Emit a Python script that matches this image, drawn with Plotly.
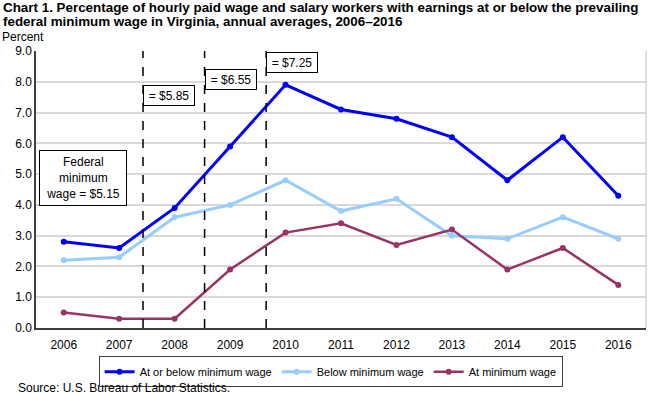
import plotly.graph_objects as go

years = [2006, 2007, 2008, 2009, 2010, 2011, 2012, 2013, 2014, 2015, 2016]
at_or_below = [2.8, 2.6, 3.9, 5.9, 7.9, 7.1, 6.8, 6.2, 4.8, 6.2, 4.3]
below = [2.2, 2.3, 3.6, 4.0, 4.8, 3.8, 4.2, 3.0, 2.9, 3.6, 2.9]
at_min = [0.5, 0.3, 0.3, 1.9, 3.1, 3.4, 2.7, 3.2, 1.9, 2.6, 1.4]
y_ticks = [0, 1, 2, 3, 4, 5, 6, 7, 8, 9]
wage_change_x = [2007.43, 2008.54, 2009.65]
wage_labels = ["= $5.85", "= $6.55", "= $7.25"]
wage_label_y = [7.56, 8.08, 8.62]
federal_label = "Federal<br>minimum<br>wage = $5.15"

FONT = "Liberation Sans, Arial, sans-serif"

fig = go.Figure()
series = [
    ("At or below minimum wage", at_or_below, "#0000FF", 3),
    ("Below minimum wage", below, "#99CCFF", 3),
    ("At minimum wage", at_min, "#993366", 2.5),
]
for name, vals, col, w in series:
    fig.add_trace(go.Scatter(
        x=years, y=vals, name=name, mode="lines+markers",
        line=dict(color=col, width=w), marker=dict(color=col, size=6),
    ))

for xv in wage_change_x:
    fig.add_shape(type="line", x0=xv, x1=xv, y0=0, y1=9.12, xref="x", yref="y",
                  line=dict(color="black", width=1.5, dash="dash"))

for xv, lab, yv in zip(wage_change_x, wage_labels, wage_label_y):
    fig.add_annotation(x=xv, y=yv, xref="x", yref="y", text=lab, showarrow=False,
                       xanchor="left", yanchor="middle", width=46, height=15, align="center",
                       font=dict(size=12, color="black", family=FONT),
                       bordercolor="black", borderwidth=1, borderpad=2, bgcolor="white")

fig.add_annotation(x=2006.344, y=4.89, xref="x", yref="y",
                   text=federal_label, showarrow=False, width=80, height=48,
                   xanchor="center", yanchor="middle", align="center",
                   font=dict(size=12, color="black", family=FONT),
                   bordercolor="black", borderwidth=1, borderpad=3, bgcolor="white")

title_lines = [
    "Chart 1. Percentage of hourly paid wage and salary workers with earnings at or below the prevailing",
    "federal minimum wage in Virginia, annual averages, 2006–2016",
]
for line, ys in zip(title_lines, [44, 30]):
    fig.add_annotation(x=0, y=1, xref="paper", yref="paper", xanchor="left", yanchor="middle",
                       text=f"<b>{line}</b>", showarrow=False, xshift=-35, yshift=ys,
                       font=dict(size=13.4, color="black", family=FONT))

fig.add_annotation(x=0, y=1, xref="paper", yref="paper", xanchor="left", yanchor="middle",
                   text="Percent", showarrow=False, font=dict(size=12, color="black", family=FONT),
                   xshift=-36, yshift=14)

fig.add_annotation(x=0, y=0, xref="paper", yref="paper", xanchor="left", yanchor="middle",
                   text="Source: U.S. Bureau of Labor Statistics.", showarrow=False,
                   font=dict(size=12, color="black", family=FONT), xshift=-20, yshift=-60)

fig.update_layout(
    width=650, height=393,
    margin=dict(l=36, r=4, t=51, b=65),
    paper_bgcolor="white", plot_bgcolor="white",
    font=dict(family=FONT, size=12, color="black"),
    showlegend=True,
    legend=dict(orientation="h", x=0.483, xanchor="center", y=-0.102, yanchor="top",
                bordercolor="#404040", borderwidth=1, font=dict(size=11, family=FONT),
                itemwidth=30, tracegroupgap=0),
    xaxis=dict(range=[2005.5, 2016.5], tickvals=years, ticktext=[str(y) for y in years],
               showgrid=False, showline=True, linecolor="#404040", linewidth=1.5,
               ticks="", mirror=False, zeroline=False, ticklabelstandoff=5),
    yaxis=dict(range=[0, 9], tickvals=y_ticks, ticktext=[f"{v:.1f}" for v in y_ticks],
               showgrid=True, gridcolor="#D9D9D9", gridwidth=1.5,
               showline=True, linecolor="#404040", linewidth=1.5, ticks="", zeroline=False),
)
fig.add_shape(type="line", xref="paper", yref="paper", x0=1, x1=1, y0=0, y1=1,
              line=dict(color="#BFBFBF", width=1))

fig.write_html("out.html", config={"displayModeBar": False},
               post_script="document.body.style.margin='0';document.body.style.overflow='hidden';")
